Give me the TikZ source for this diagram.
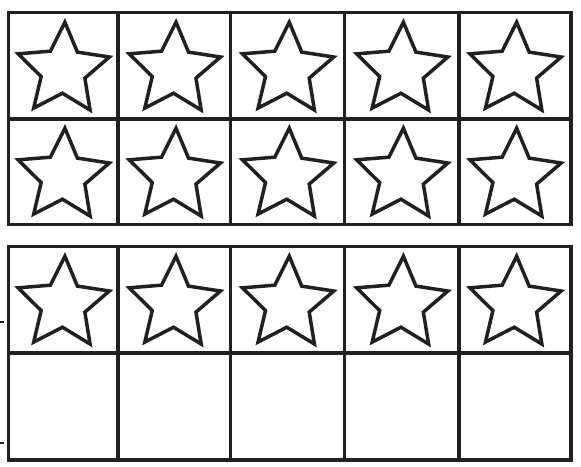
\documentclass[tikz,border=0pt]{standalone}
\definecolor{ink}{HTML}{231F20}
\begin{document}
\begin{tikzpicture}[x=1pt,y=1pt,
  gridline/.style={draw=ink,line width=3.1pt,line join=miter},
  starline/.style={draw=ink,line width=3.5pt,line join=miter,miter limit=10},
  tickline/.style={draw=ink,line width=1.8pt}]
\useasboundingbox (0,0) rectangle (581,466);
\fill[white] (0,0) rectangle (581,466);
% top frame
\draw[gridline] (8.5,241.5) rectangle (571,453.5);
\draw[gridline] (8.5,347) -- (571,347);
\foreach \x in {118,230.7,344.5,459} \draw[gridline] (\x,241.5) -- (\x,453.5);
% bottom frame
\draw[gridline] (8.5,6) rectangle (571,219.5);
\draw[gridline] (8.5,113) -- (571,113);
\foreach \x in {118,230.7,344.5,459} \draw[gridline] (\x,6) -- (\x,219.5);
% stars
\foreach \cy in {395.75,289.75,161.75}
  \foreach \cx in {63.25,174.35,287.6,401.75,515}
    \draw[starline,shift={(\cx,\cy)},rotate=-2]
      (90:48) -- (126:23) -- (162:48) -- (198:23) -- (234:48) -- (270:23)
      -- (306:48) -- (342:23) -- (18:48) -- (54:23) -- cycle;
% ticks
\coordinate (t1a) at (0,144); \coordinate (t1b) at (3.5,144);
\coordinate (t2a) at (0,23); \coordinate (t2b) at (3.5,23);
\draw[tickline] (t1a) -- (t1b);
\draw[tickline] (t2a) -- (t2b);
\end{tikzpicture}
\end{document}
